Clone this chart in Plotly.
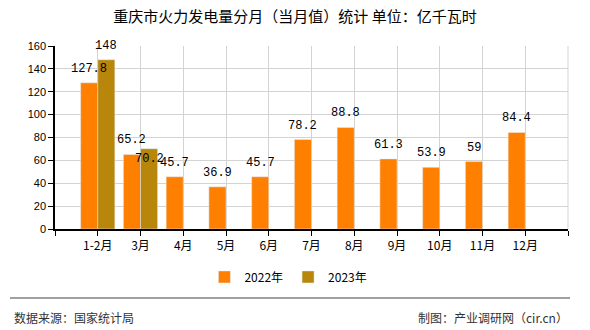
import plotly.graph_objects as go

categories = ["1-2月", "3月", "4月", "5月", "6月", "7月", "8月", "9月", "10月", "11月", "12月"]
values_2022 = [127.8, 65.2, 45.7, 36.9, 45.7, 78.2, 88.8, 61.3, 53.9, 59, 84.4]
values_2023 = [148, 70.2]
y_ticks = [0, 20, 40, 60, 80, 100, 120, 140, 160]

idx = list(range(len(categories)))
num_font = dict(family="Liberation Mono, DejaVu Sans Mono, monospace", size=12, color="#000000")

fig = go.Figure()
fig.add_trace(go.Bar(x=idx, y=values_2022, name="2022年", marker_color="#FF8000"))
fig.add_trace(go.Bar(x=idx[:len(values_2023)], y=values_2023, name="2023年", marker_color="#B8860B"))

unit_px = 513 / 12
half = 0.2 * unit_px
for i, v in zip(idx, values_2022):
    fig.add_annotation(x=i, y=v, text=str(v), showarrow=False, xshift=-half,
                       yanchor="bottom", yshift=5, font=num_font)
for i, v in zip(idx, values_2023):
    inside = i > 0
    fig.add_annotation(x=i, y=v, text=str(v), showarrow=False, xshift=half,
                       yanchor="top" if inside else "bottom", yshift=-1 if inside else 5,
                       font=num_font)

tickvals = [-1] + idx + [len(categories)]
ticktext = [""] + categories + [""]

fig.update_layout(
    width=590, height=330,
    margin=dict(l=55, r=22, t=46, b=101),
    paper_bgcolor="white", plot_bgcolor="white",
    barmode="group", bargap=0.2, bargroupgap=0,
    title=dict(text="重庆市火力发电量分月（当月值）统计 单位：亿千瓦时",
               x=0.5, xanchor="center", y=0.948, yanchor="middle",
               font=dict(family="Noto Sans CJK SC", size=15, color="#000000")),
    font=dict(family="Noto Sans CJK SC", size=11, color="#000000"),
    xaxis=dict(range=[-1, len(categories)], tickvals=tickvals, ticktext=ticktext,
               showgrid=True, gridcolor="#d3d3d3", gridwidth=1,
               showline=True, linecolor="#000000", linewidth=1.5,
               ticks="outside", ticklen=5, tickcolor="#000000",
               tickfont=dict(family="Noto Sans CJK SC", size=12), zeroline=False),
    yaxis=dict(range=[0, 160], tickvals=y_ticks,
               showgrid=True, gridcolor="#d3d3d3", gridwidth=1,
               showline=True, linecolor="#000000", linewidth=1.5,
               ticks="outside", ticklen=5, tickcolor="#000000",
               tickfont=dict(family="Liberation Sans, DejaVu Sans", size=11), zeroline=False),
    legend=dict(orientation="h", x=0.455, xanchor="center", y=-0.262, yanchor="middle",
                font=dict(family="Noto Sans CJK SC", size=12), itemwidth=30,
                traceorder="normal"),
    showlegend=True,
)

fig.add_shape(type="line", xref="paper", yref="paper", x0=1, x1=1, y0=0, y1=1,
              line=dict(color="#d3d3d3", width=1))
fig.add_shape(type="line", xref="paper", yref="paper",
              x0=(10 - 55) / 513, x1=(570 - 55) / 513,
              y0=(229 - 298) / 183, y1=(229 - 298) / 183,
              line=dict(color="#808080", width=1.5))
fig.add_annotation(text="数据来源：国家统计局", xref="paper", yref="paper",
                   x=(12 - 55) / 513, xanchor="left", y=(229 - 317) / 183, yanchor="middle",
                   showarrow=False, font=dict(family="Noto Sans CJK SC", size=12, color="#333333"))
fig.add_annotation(text="制图：产业调研网（cir.cn）", xref="paper", yref="paper",
                   x=(570 - 55) / 513, xanchor="right", y=(229 - 317) / 183, yanchor="middle",
                   showarrow=False, font=dict(family="Noto Sans CJK SC", size=12, color="#333333"))

fig.write_html("out.html")
